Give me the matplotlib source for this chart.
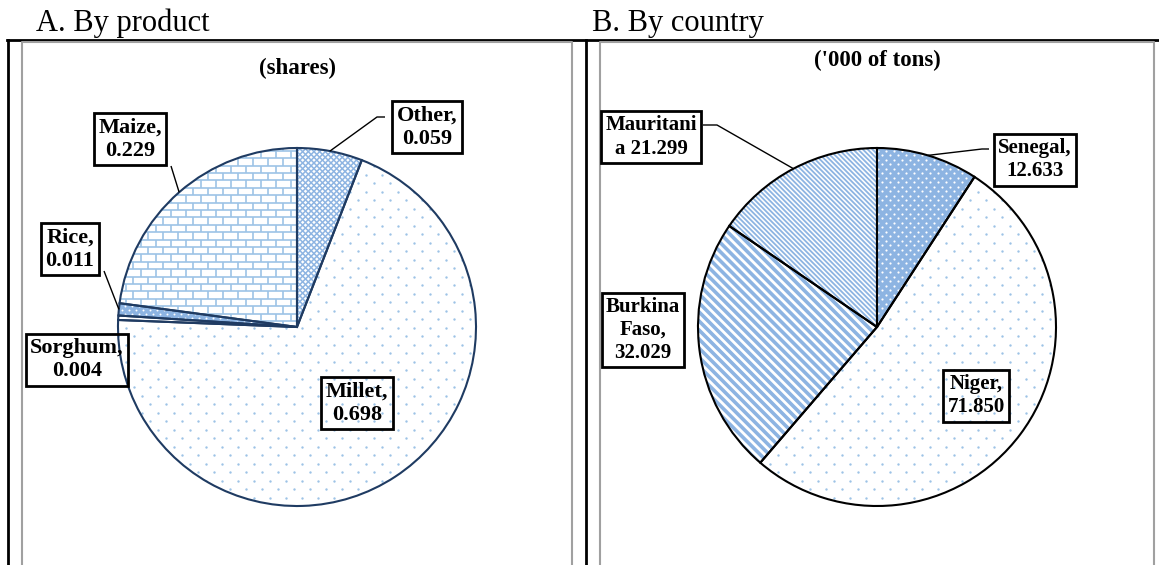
import numpy as np
import matplotlib.pyplot as plt
from matplotlib.collections import LineCollection

plt.rcParams['font.family'] = ['Liberation Serif', 'DejaVu Serif']

# ---- data ----
products = ['Other', 'Millet', 'Sorghum', 'Rice', 'Maize']
product_shares = [0.059, 0.698, 0.004, 0.011, 0.229]

countries = ['Senegal', 'Niger', 'Burkina Faso', 'Mauritania']
country_tons = [12.633, 71.850, 32.029, 21.299]
country_labels = ['Senegal,\n12.633', 'Niger,\n71.850',
                  'Burkina\nFaso,\n32.029', 'Mauritani\na 21.299']

W, H = 1159, 565
NAVY = '#1F3B62'
LIGHT = '#9DC3E6'
MID = '#8DB4E2'
GRAY = '#A0A0A0'


def Y(y):
    """image row (counted from the top) -> axes y (from the bottom)"""
    return H - y


def draw_pie(ax, values, center, radius, faces, edge):
    wedges, _ = ax.pie(values, startangle=90, counterclock=False, center=center,
                       radius=radius, colors=faces, wedgeprops=dict(linewidth=0))
    ax.pie(values, startangle=90, counterclock=False, center=center, radius=radius,
           wedgeprops=dict(fill=False, edgecolor=edge, linewidth=1.5, zorder=3))
    return wedges


def edge_point(wedge):
    mid = np.deg2rad((wedge.theta1 + wedge.theta2) / 2)
    cx, cy = wedge.center
    return cx + wedge.r * np.cos(mid), cy + wedge.r * np.sin(mid)


def add_dots(ax, wedge, dx, dy, color, size):
    cx, cy = wedge.center
    r = wedge.r
    pts = []
    for i, y in enumerate(np.arange(cy - r, cy + r + dy, dy)):
        for x in np.arange(cx - r + (i % 2) * dx / 2, cx + r + dx, dx):
            pts.append((x, y))
    pts = np.array(pts)
    sc = ax.scatter(pts[:, 0], pts[:, 1], s=size, color=color, linewidths=0, zorder=2)
    sc.set_clip_path(wedge)


def add_lines(ax, wedge, segs, color, lw):
    lc = LineCollection(segs, colors=color, linewidths=lw, zorder=2)
    ax.add_collection(lc)
    lc.set_clip_path(wedge)


def diagonal(wedge, gap, slope):
    cx, cy = wedge.center
    r = wedge.r
    step = gap * np.sqrt(1 + slope ** 2)
    xs = np.array([cx - r, cx + r])
    n = int(2 * r / step) + 2
    return [np.column_stack([xs, cy + slope * (xs - cx) + k * step])
            for k in range(-n, n + 1)]


def bricks(wedge, bw, bh):
    cx, cy = wedge.center
    r = wedge.r
    segs = []
    for i, y in enumerate(np.arange(cy - r, cy + r + bh, bh)):
        segs.append([(cx - r, y), (cx + r, y)])
        shift = (i % 2) * bw / 2
        for x in np.arange(cx - r - shift, cx + r + bw, bw):
            segs.append([(x, y), (x, y + bh)])
    return segs


def label(ax, x, y, txt, fs):
    ax.text(x, Y(y), txt, ha='center', va='center', fontsize=fs,
            fontweight='bold', linespacing=1.2, zorder=6,
            bbox=dict(boxstyle='square,pad=0.2', fc='none', ec='black', lw=2))


def leader(ax, wedge, *via):
    ex, ey = edge_point(wedge)
    xs = [ex] + [p[0] for p in via]
    ys = [ey] + [Y(p[1]) for p in via]
    ax.plot(xs, ys, color='black', lw=1.0, zorder=4, solid_capstyle='butt')


fig = plt.figure(figsize=(W / 100, H / 100), dpi=100)
ax = fig.add_axes([0, 0, 1, 1])

# ---- A. by product ----
left = draw_pie(ax, product_shares, (297, Y(327)), 179,
                ['white', 'white', 'white', MID, 'white'], NAVY)
other, millet, sorghum, rice, maize = left
add_lines(ax, other, diagonal(other, 4.0, 1) + diagonal(other, 4.0, -1), MID, 1.1)
add_dots(ax, millet, 16, 8.5, LIGHT, 3)
add_dots(ax, rice, 7, 4, 'white', 2)
add_lines(ax, maize, bricks(maize, 15, 7.4), LIGHT, 1.2)

label(ax, 427, 127, f'{products[0]},\n{product_shares[0]:.3f}', 16)
label(ax, 357, 403, f'{products[1]},\n{product_shares[1]:.3f}', 16)
label(ax, 77, 360, f'{products[2]},\n{product_shares[2]:.3f}', 16)
label(ax, 70, 249, f'{products[3]},\n{product_shares[3]:.3f}', 16)
label(ax, 130, 139, f'{products[4]},\n{product_shares[4]:.3f}', 16)
leader(ax, other, (377, 117), (385, 117))
leader(ax, maize, (171, 166))
leader(ax, rice, (104, 271))

# ---- B. by country ----
right = draw_pie(ax, country_tons, (877, Y(327)), 179,
                 [MID, 'white', 'white', 'white'], 'black')
senegal, niger, burkina, mauritania = right
add_dots(ax, senegal, 8, 4.5, 'white', 2.5)
add_dots(ax, niger, 16, 8.5, LIGHT, 3)
add_lines(ax, burkina, diagonal(burkina, 6.4, -1), MID, 2.6)
add_lines(ax, mauritania, diagonal(mauritania, 3.4, -1), MID, 1.3)

label(ax, 1035, 160, country_labels[0], 15)
label(ax, 976, 396, country_labels[1], 15)
label(ax, 643, 330, country_labels[2], 15)
label(ax, 651, 137, country_labels[3], 15)
leader(ax, senegal, (982, 149), (989, 149))
leader(ax, mauritania, (717, 125), (703, 125))

# ---- titles ----
ax.text(36, Y(31), 'A. By product', fontsize=22, va='baseline', ha='left')
ax.text(592, Y(31), 'B. By country', fontsize=22, va='baseline', ha='left')
ax.text(297, Y(68), '(shares)', fontsize=16.5, fontweight='bold', ha='center', va='center')
ax.text(877, Y(60), "('000 of tons)", fontsize=16.5, fontweight='bold', ha='center', va='center')

# ---- panel frames ----
ax.plot([7, W], [Y(40), Y(40)], color='black', lw=2, clip_on=False)
for x in (8, 586):
    ax.plot([x, x], [Y(40), 0], color='black', lw=2, clip_on=False)
for x0, x1 in ((21.5, 571.5), (600, 1154)):
    ax.plot([x0, x0, x1, x1], [0, Y(42), Y(42), 0], color=GRAY, lw=1.5, clip_on=False)

ax.set_xlim(0, W)
ax.set_ylim(0, H)
ax.axis('off')

fig.savefig('out.png', dpi=100)
